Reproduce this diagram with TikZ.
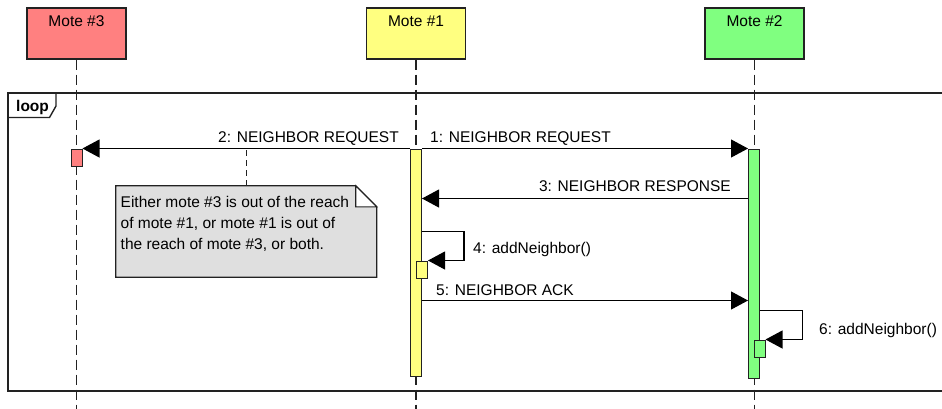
\documentclass[tikz,border=0pt]{standalone}
\usepackage{fontspec}
\setmainfont{Liberation Sans}
\usetikzlibrary{arrows.meta,calc}

\definecolor{motered}{HTML}{FF8080}
\definecolor{moteyellow}{HTML}{FFFF80}
\definecolor{motegreen}{HTML}{80FF80}
\definecolor{notegray}{HTML}{DFDFDF}
\definecolor{lineclr}{HTML}{222222}

\begin{document}
\begin{tikzpicture}[x=1pt,y=-1pt,
  font=\fontsize{15.5}{18}\selectfont,
  actorbox/.style={draw=lineclr, line width=1.3pt, minimum width=99pt, minimum height=51pt, inner sep=0pt},
  actortext/.style={anchor=base, inner sep=0pt},
  lifeline/.style={draw=lineclr, line width=1.6pt, dash pattern=on 10pt off 5pt},
  activation/.style={draw=lineclr, line width=1pt, minimum width=11pt, inner sep=0pt},
  msg/.style={draw=black, line width=1.1pt, -{Triangle[length=17pt,width=18pt]}},
  selfcall/.style={draw=black, line width=1.1pt, -{Triangle[length=17pt,width=18pt]}},
  msgtext/.style={inner sep=0pt},
  frameline/.style={draw=lineclr, line width=1.4pt},
  notebox/.style={minimum width=260.5pt, minimum height=91pt, inner sep=0pt},
  notetext/.style={anchor=base west, inner sep=0pt},
  notelink/.style={draw=lineclr, line width=1.2pt, dash pattern=on 6pt off 4pt},
]
\useasboundingbox (0,0) rectangle (942,408);
\clip (0,0) rectangle (942,408);

% loop combined fragment (runs past the right edge)
\draw[frameline] (960,93) -- (8,93) -- (8,391) -- (960,391);
\draw[frameline] (8,117.5) -- (49.5,117.5) -- (56,106) -- (56,93);
\node[anchor=base west, inner sep=0pt, font=\fontsize{15.5}{18}\selectfont\bfseries] (loop) at (16,111) {loop};

% participants
\node[actorbox, fill=motered]    (m3) at (76.5,33.5) {};
\node[actorbox, fill=moteyellow] (m1) at (416,33.5) {};
\node[actorbox, fill=motegreen]  (m2) at (754.5,33.5) {};
\node[actortext] (m3t) at (76.5,26) {Mote \#3};
\node[actortext] (m1t) at (416,26) {Mote \#1};
\node[actortext] (m2t) at (754.5,26) {Mote \#2};

% lifelines
\coordinate (m3end) at (76.5,412);
\coordinate (m1end) at (416,412);
\coordinate (m2end) at (754.5,412);
\draw[lifeline] (m3.south) -- (m3end);
\draw[lifeline] (m1.south) -- (m1end);
\draw[lifeline] (m2.south) -- (m2end);

% activation bars
\node[activation, fill=motered, minimum height=17.5pt]   (a3) at (76.5,157.75) {};
\node[activation, fill=moteyellow, minimum height=227pt] (a1) at (416,262.5) {};
\node[activation, fill=motegreen, minimum height=229.5pt] (a2) at (754,263.75) {};
\node[activation, fill=moteyellow, minimum height=17pt]  (a1n) at (422,269.5) {};
\node[activation, fill=motegreen, minimum height=17pt]   (a2n) at (759.5,348.5) {};

% messages
\draw[msg] (a1.north east) -- (a2.north west);
\node[msgtext, anchor=base west] (l1) at (430,142) {1: NEIGHBOR REQUEST};

\draw[msg] (a1.north west) -- (a3.north east);
\node[msgtext, anchor=base east] (l2) at (399,142) {2: NEIGHBOR REQUEST};

\draw[msg] ($(a2.north west)+(0,50)$) -- ($(a1.north east)+(0,50)$);
\node[msgtext, anchor=base east] (l3) at (731,191) {3: NEIGHBOR RESPONSE};

\draw[selfcall] ($(a1.north east)+(0,83)$) -- ++(42,0) |- (a1n.north east);
\node[msgtext, anchor=base west] (l4) at (473,253) {4: addNeighbor()};

\draw[msg] ($(a1.north east)+(0,152)$) -- ($(a2.north west)+(0,152)$);
\node[msgtext, anchor=base west] (l5) at (436,295.5) {5: NEIGHBOR ACK};

\draw[selfcall] ($(a2.north east)+(0,162)$) -- ++(42.5,0) |- (a2n.north east);
\node[msgtext, anchor=base west] (l6) at (819,334) {6: addNeighbor()};

% note attached to message 2
\node[notebox] (note) at (246.25,231.5) {};
\draw[lineclr, line width=1.3pt, fill=notegray]
  (note.north west) -- ($(note.north east)+(-21,0)$) -- ($(note.north east)+(0,21)$)
  -- (note.south east) -- (note.south west) -- cycle;
\draw[lineclr, line width=1.1pt, fill=white]
  ($(note.north east)+(-21,0)$) -- ($(note.north east)+(-21,21)$) -- ($(note.north east)+(0,21)$) -- cycle;
\draw[notelink] (note.north) -- (note.north |- a3.north east);
\node[notetext] (n1) at (120.5,207.3) {Either mote \#3 is out of the reach};
\node[notetext] (n2) at (120.5,228.3) {of mote \#1, or mote \#1 is out of};
\node[notetext] (n3) at (120.5,249.3) {the reach of mote \#3, or both.};
\end{tikzpicture}
\end{document}
